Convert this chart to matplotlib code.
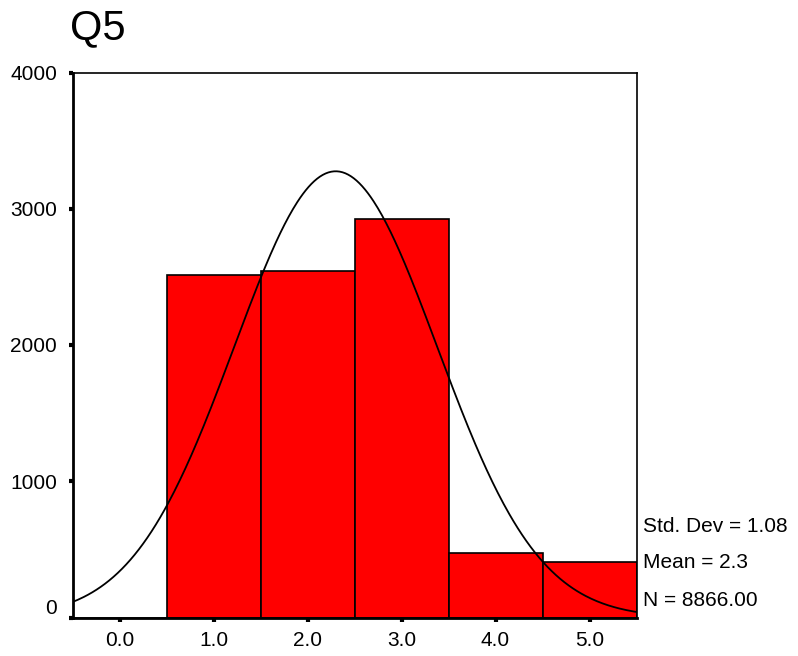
import numpy as np
import matplotlib.pyplot as plt

plt.rcParams['font.family'] = ['Liberation Sans', 'DejaVu Sans']

# 直方图数据
bin_centers = [0.0, 1.0, 2.0, 3.0, 4.0, 5.0]
counts = [0, 2515, 2544, 2924, 471, 410]
mean_val = 2.3
std_val = 1.08
n_val = 8866.00
y_ticks = [0, 1000, 2000, 3000, 4000]


def show_results():
    fig = plt.figure(figsize=(7.98, 6.56), dpi=100)
    ax = fig.add_axes([72.5 / 798, 1 - 617.5 / 656, 564 / 798, 545 / 656])

    ax.bar(bin_centers, counts, width=1.0, color='#ff0000', edgecolor='black', linewidth=1.2, zorder=2)

    # 正态曲线
    xs = np.linspace(-0.5, 5.5, 400)
    ys = n_val * 1.0 / (std_val * np.sqrt(2 * np.pi)) * np.exp(-0.5 * ((xs - mean_val) / std_val) ** 2)
    ax.plot(xs, ys, color='black', linewidth=1.3, zorder=3)

    ax.set_xlim(-0.5, 5.5)
    ax.set_ylim(0, 4000)
    ax.set_xticks(bin_centers)
    ax.set_xticklabels([f'{v:.1f}' for v in bin_centers])
    ax.set_yticks(y_ticks)
    ax.set_yticklabels([str(v) for v in y_ticks])
    ax.tick_params(axis='both', direction='out', length=3, width=3, labelsize=15)
    ax.tick_params(axis='y', pad=8)
    ax.tick_params(axis='x', pad=7)
    # 0 标签稍微上移
    ax.get_yticklabels()[0].set_va('bottom')

    for side in ['left', 'bottom']:
        ax.spines[side].set_linewidth(2)
    for side in ['top', 'right']:
        ax.spines[side].set_linewidth(1.2)

    fig.text(70 / 798, 1 - 28 / 656, 'Q5', fontsize=30, va='center', ha='left')
    fig.text(643 / 798, 1 - 527 / 656, f'Std. Dev = {std_val:.2f}', fontsize=15, va='center')
    fig.text(643 / 798, 1 - 563 / 656, f'Mean = {mean_val:.1f}', fontsize=15, va='center')
    fig.text(643 / 798, 1 - 600 / 656, f'N = {n_val:.2f}', fontsize=15, va='center')

    fig.savefig('out.png', dpi=100)


if __name__ == '__main__':
    show_results()
